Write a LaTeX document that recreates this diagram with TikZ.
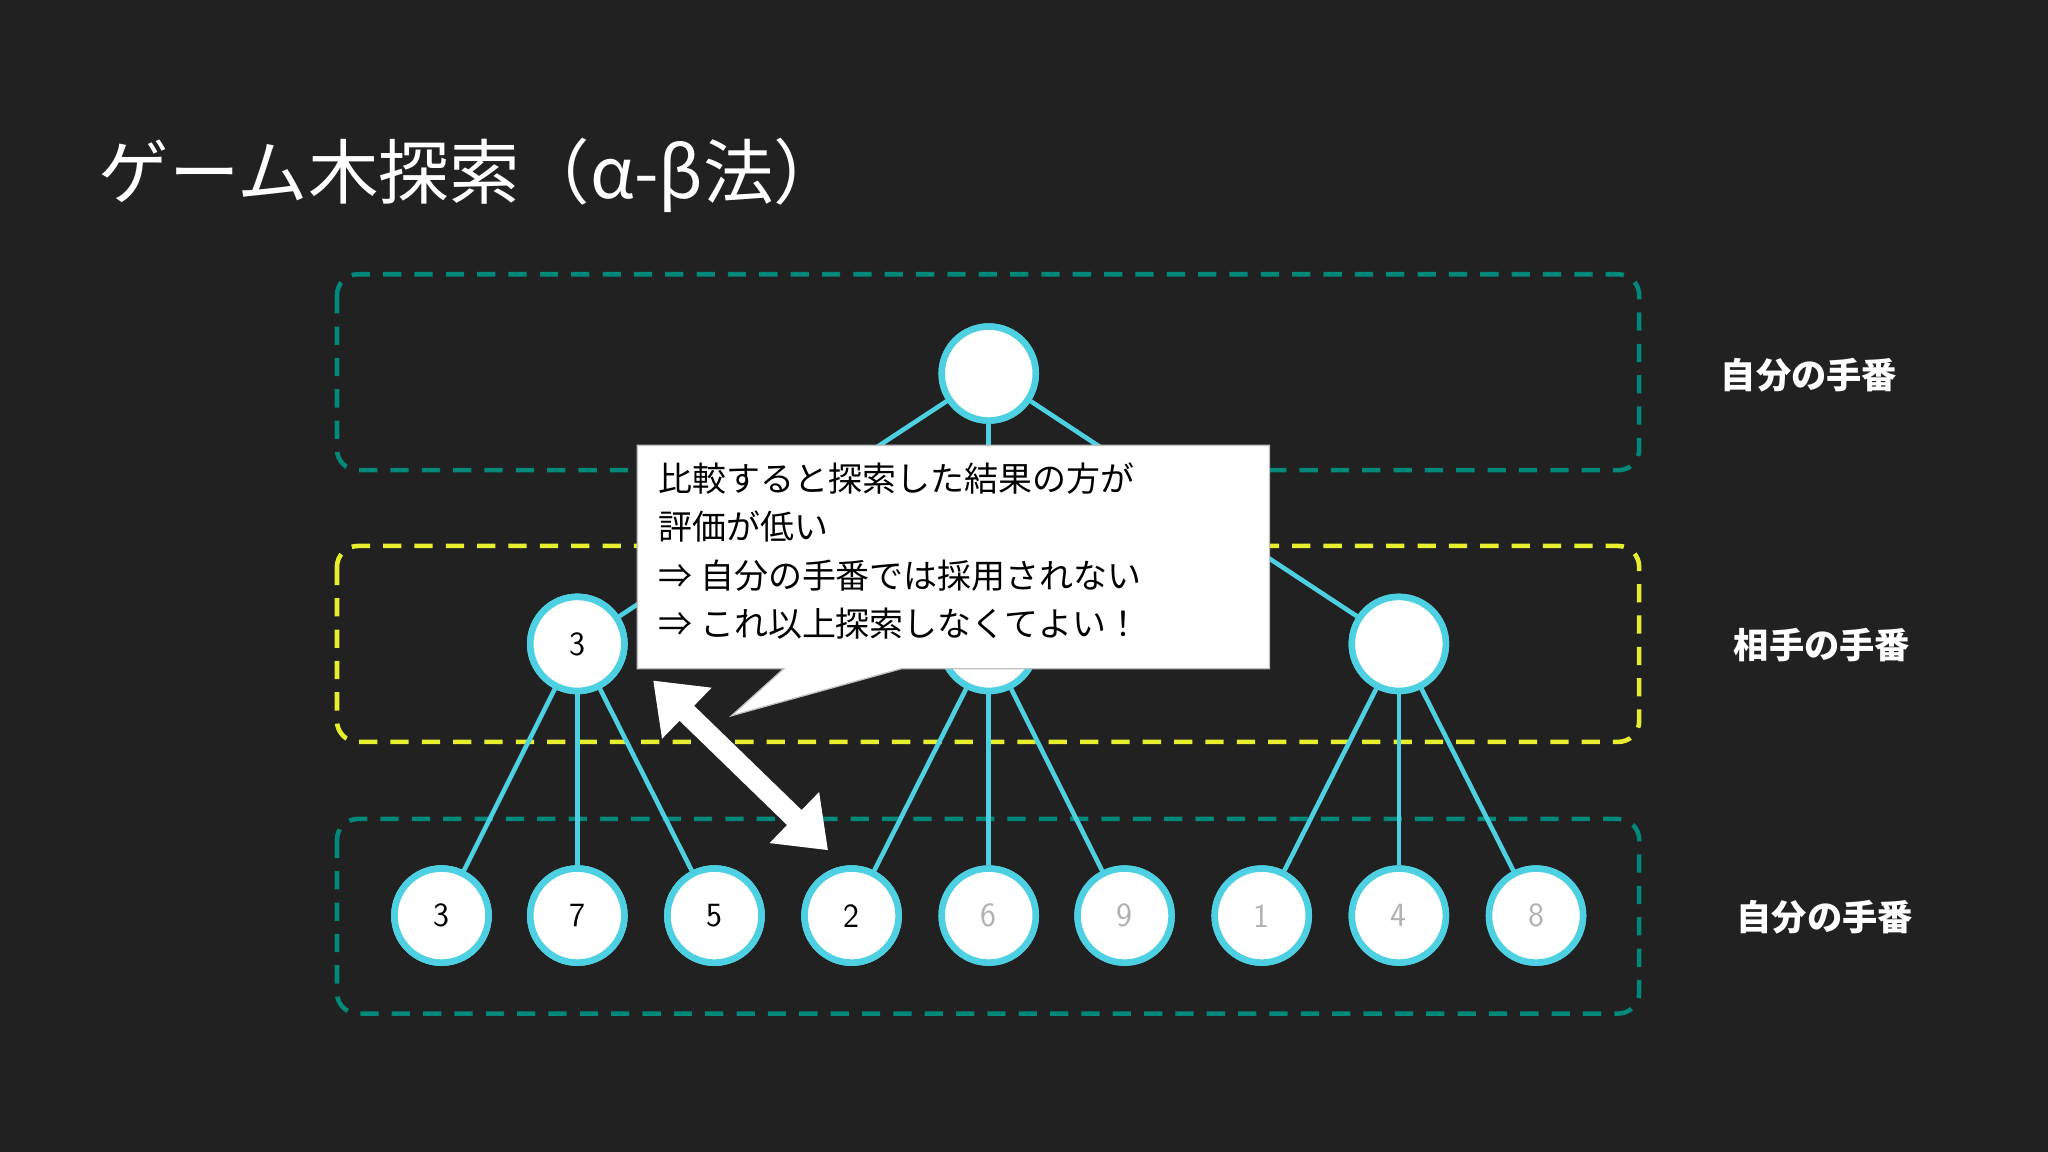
\documentclass[tikz,border=0pt]{standalone}
\usepackage{fontspec}
\setmainfont{Noto Sans CJK JP}
\newfontfamily\cjkb[BoldFont={* Bold}]{Noto Sans CJK JP}
\usetikzlibrary{arrows.meta}
\definecolor{bg}{HTML}{212121}
\definecolor{teal}{HTML}{00897B}
\definecolor{yel}{HTML}{E6EE2E}
\definecolor{cy}{HTML}{4DD0E1}
\begin{document}
\begin{tikzpicture}[x=1pt,y=-1pt,
  bx/.style={dashed,dash pattern=on 14pt off 10pt,line width=3.5pt,rounded corners=16pt},
  nd/.style={circle,fill=white,draw=cy,line width=5pt,minimum size=72pt,inner sep=0pt,font=\fontsize{26}{30}\selectfont\sffamily},
  gr/.style={nd,text=gray!60},
  ed/.style={cy,line width=3.5pt},
  lab/.style={text=white,font=\fontsize{27}{32}\selectfont\bfseries}]
\fill[bg] (0,0) rectangle (1568,882);
\useasboundingbox (0,0) rectangle (1568,882);
\node[anchor=base west,text=white,font=\fontsize{54}{60}\selectfont] (title) at (72,152) {ゲーム木探索（α-β法）};
\draw[bx,teal] (258,210) rectangle (1255,360);
\draw[bx,yel] (258,418) rectangle (1255,568);
\draw[bx,teal] (258,627) rectangle (1255,776);
\node[lab] (l1) at (1385,287) {自分の手番};
\node[lab] (l2) at (1395,494) {相手の手番};
\node[lab] (l3) at (1397,702) {自分の手番};
\node[nd] (r) at (757,286) {};
\node[nd] (m1) at (442,493) {3};
\node[nd] (m2) at (757,493) {};
\node[nd] (m3) at (1071,493) {};
\node[nd] (a1) at (338,701) {3};
\node[nd] (a2) at (442,701) {7};
\node[nd] (a3) at (547,701) {5};
\node[nd] (a4) at (652,701) {2};
\node[gr] (a5) at (757,701) {6};
\node[gr] (a6) at (861,701) {9};
\node[gr] (a7) at (966,701) {1};
\node[gr] (a8) at (1071,701) {4};
\node[gr] (a9) at (1176,701) {8};
\begin{scope}[on background layer/.style={}]
\foreach \m/\a in {r/m1,r/m2,r/m3,m1/a1,m1/a2,m1/a3,m2/a4,m2/a5,m2/a6,m3/a7,m3/a8,m3/a9}
  \draw[ed] (\m) -- (\a);
\end{scope}
\foreach \n in {r,m1,m2,m3,a1,a2,a3,a4}
  \node[nd] at (\n) {};
\node[nd] at (m1) {3};
\node[nd] at (a1) {3};\node[nd] at (a2) {7};\node[nd] at (a3) {5};\node[nd] at (a4) {2};
\foreach \n/\t in {a5/6,a6/9,a7/1,a8/4,a9/8} \node[gr] at (\n) {\t};
\filldraw[fill=white,draw=gray!50,line width=1pt] (488,341) -- (972,341) -- (972,512) -- (690,512) -- (560,548) -- (600,512) -- (488,512) -- cycle;
\node[anchor=north west,align=left,text=black,inner sep=0pt,font=\fontsize{26}{37}\selectfont] (txt) at (504,354) {比較すると探索した結果の方が\\評価が低い\\⇒ 自分の手番では採用されない\\⇒ これ以上探索しなくてよい！};
\coordinate (p) at (500,521);
\coordinate (q) at (634,651);
\draw[white,line width=16pt,{Triangle[length=36pt,width=52pt]}-{Triangle[length=36pt,width=52pt]}] (p) -- (q);
\end{tikzpicture}
\end{document}
